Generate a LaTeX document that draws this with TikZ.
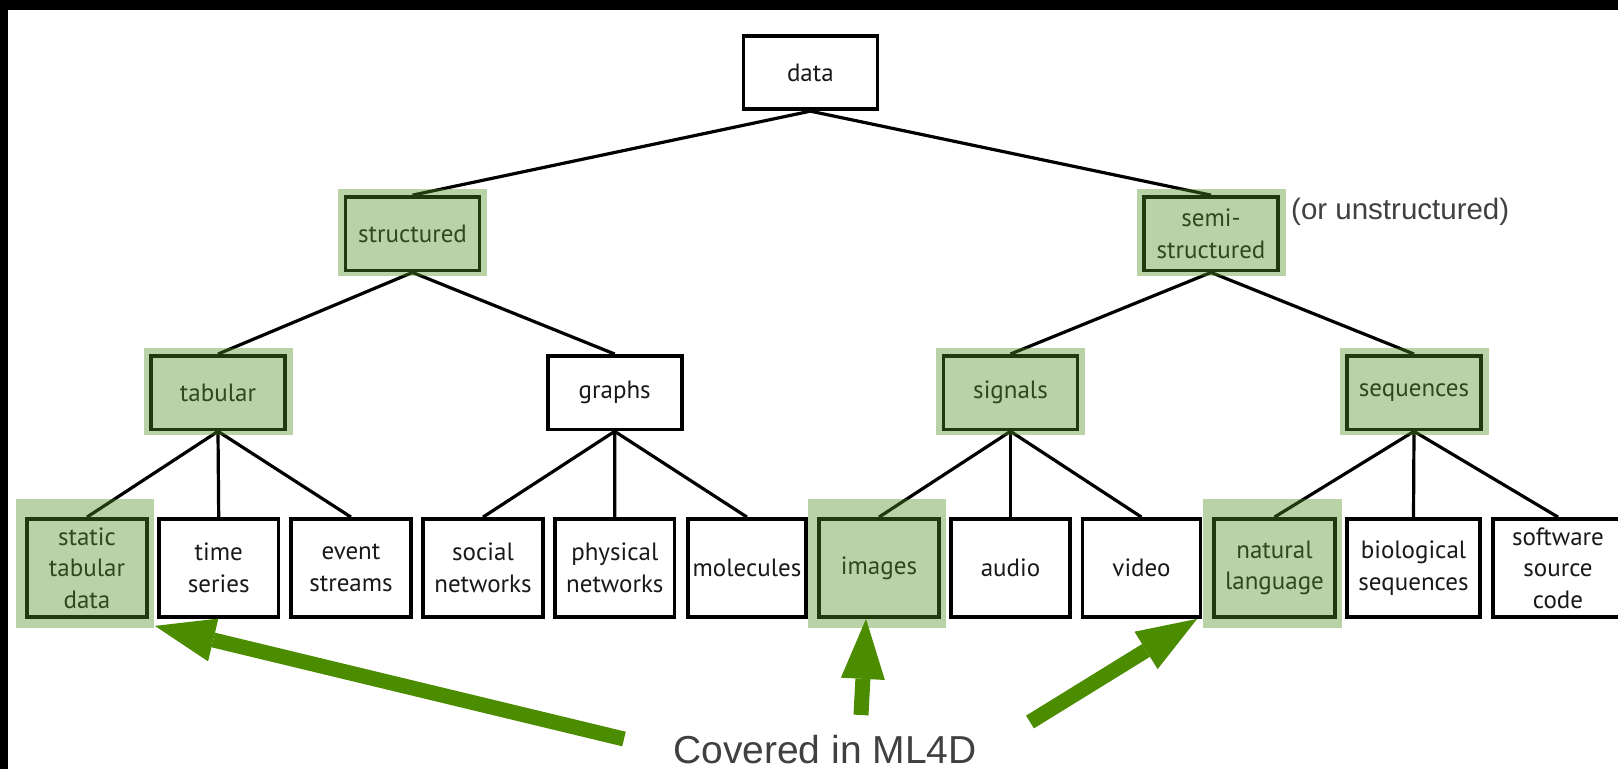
\documentclass[tikz,border=0pt]{standalone}
\usepackage{fontspec}
\newfontfamily\boxfontfam{PT Sans}
\newfontfamily\labelfontfam{Liberation Sans}
\usetikzlibrary{arrows.meta,calc}
\definecolor{arrowgreen}{RGB}{76,140,0}
\definecolor{hlgreen}{RGB}{80,145,35}
\definecolor{textgray}{RGB}{25,25,25}
\definecolor{labelgray}{RGB}{64,64,64}
\newcommand\hlleaf[1]{\fill[hl] ($(#1.north west)+(-9,-18)$) rectangle ($(#1.south east)+(5,9)$);}
\newcommand\hllvl[1]{\fill[hl] ($(#1.north west)+(-5.5,-6.5)$) rectangle ($(#1.south east)+(6,4)$);}
\begin{document}
\begin{tikzpicture}[x=1pt,y=-1pt,
  box/.style={draw=black, line width=3.8pt, fill=white, inner sep=0pt, align=center,
    text=textgray, font={\boxfontfam\fontsize{25}{31.5}\selectfont}},
  lvl/.style={box, minimum width=134pt, minimum height=73.5pt},
  leaf/.style={box, minimum height=98pt, minimum width=#1},
  conn/.style={line width=3.2pt, draw=black},
  hl/.style={fill=hlgreen, fill opacity=0.4},
  bigarrow/.style={draw=arrowgreen, line width=15pt,
    -{Triangle[length=60pt,width=44pt,line width=0pt]}},
  note/.style={inner sep=0pt, text=labelgray}
]
\useasboundingbox (0,0) rectangle (1618,769);
\fill[white] (0,0) rectangle (1618,769);
\fill[black] (0,0) rectangle (1618,9.5);
\fill[black] (0,0) rectangle (8,769);

% top levels
\node[lvl] (data) at (810.4,72.5) {data};
\node[lvl] (struct) at (412.5,233.8) {structured};
\node[lvl] (semi) at (1211,233.8) {semi-\\structured};
\node[lvl] (tab) at (218,392.7) {tabular};
\node[lvl] (graphs) at (614.7,392.7) {graphs};
\node[lvl] (signals) at (1010.5,392.7) {signals};
\node[lvl] (seqs) at (1414,392.7) {sequences};

% leaves
\node[leaf=120pt] (static) at (87,568) {static\\tabular\\data};
\node[leaf=119.5pt] (timeser) at (218.7,568) {time\\series};
\node[leaf=120pt] (events) at (351,568) {event\\streams};
\node[leaf=120pt] (social) at (483,568) {social\\networks};
\node[leaf=119.5pt] (physical) at (614.8,568) {physical\\networks};
\node[leaf=117.5pt] (molecules) at (747,568) {molecules};
\node[leaf=119.5pt] (images) at (879,568) {images};
\node[leaf=119pt] (audio) at (1010.5,568) {audio};
\node[leaf=118pt] (video) at (1141.5,568) {video};
\node[leaf=121pt] (natlang) at (1274.5,568) {natural\\language};
\node[leaf=133pt] (bio) at (1413.5,568) {biological\\sequences};
\node[leaf=130pt] (software) at (1558,568) {software\\source\\code};

% connectors
\draw[conn] (data.south) -- (struct.north);
\draw[conn] (data.south) -- (semi.north);
\draw[conn] (struct.south) -- (tab.north);
\draw[conn] (struct.south) -- (graphs.north);
\draw[conn] (semi.south) -- (signals.north);
\draw[conn] (semi.south) -- (seqs.north);
\draw[conn] (tab.south) -- (static.north);
\draw[conn] (tab.south) -- (timeser.north);
\draw[conn] (tab.south) -- (events.north);
\draw[conn] (graphs.south) -- (social.north);
\draw[conn] (graphs.south) -- (physical.north);
\draw[conn] (graphs.south) -- (molecules.north);
\draw[conn] (signals.south) -- (images.north);
\draw[conn] (signals.south) -- (audio.north);
\draw[conn] (signals.south) -- (video.north);
\draw[conn] (seqs.south) -- (natlang.north);
\draw[conn] (seqs.south) -- (bio.north);
\draw[conn] (seqs.south) -- (software.north);

% highlights
\hllvl{struct}
\hllvl{semi}
\hllvl{tab}
\hllvl{signals}
\hllvl{seqs}
\hlleaf{static}
\hlleaf{images}
\hlleaf{natlang}

% annotations
\node[note, anchor=base west, font={\labelfontfam\fontsize{29.5}{34}\selectfont}] (unstr) at (1291,219.5) {(or unstructured)};
\node[note, anchor=base, font={\labelfontfam\fontsize{39}{46}\selectfont}] (ml4d) at (825,763) {Covered in ML4D};

\coordinate (s1) at (624,739);
\coordinate (s2) at (861,715);
\coordinate (s3) at (1030,722);
\coordinate (t1) at ($(static.south east)+(6,7)$);
\coordinate (t2) at ($(images.south)+(-13,0)$);
\coordinate (t3) at ($(natlang.south west)+(-15,0)$);
\draw[bigarrow] (s1) -- (t1);
\draw[bigarrow] (s2) -- (t2);
\draw[bigarrow] (s3) -- (t3);
\end{tikzpicture}
\end{document}
